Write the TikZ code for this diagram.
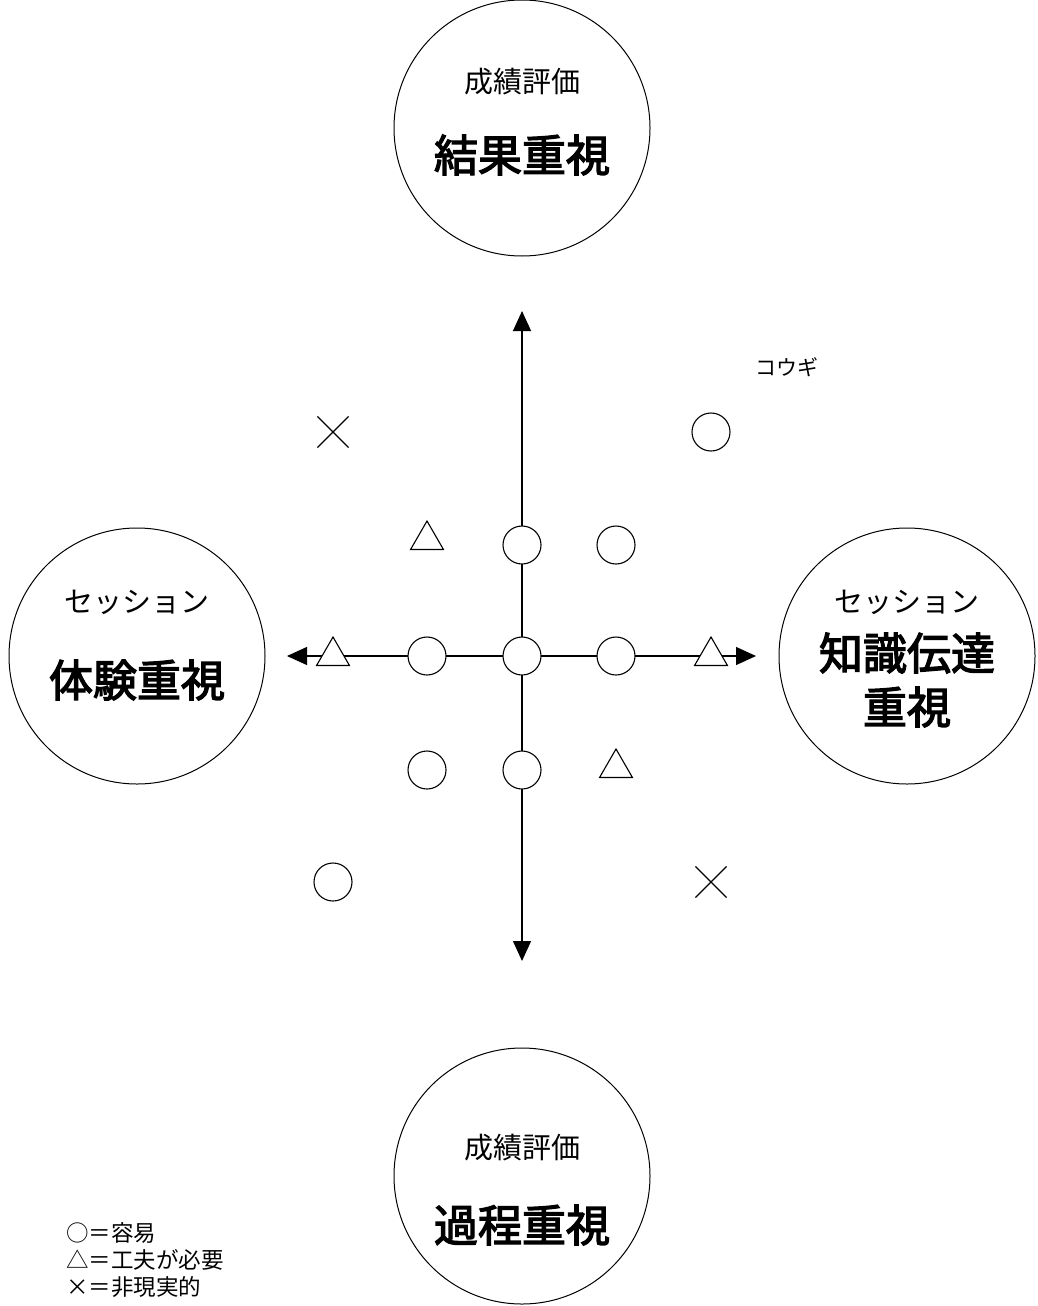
\documentclass[tikz,border=0pt]{standalone}
\usepackage{fontspec}
\newfontfamily\jp{Noto Sans CJK JP}
\newfontfamily\jpm[FakeBold=3]{Noto Sans CJK JP}
\usetikzlibrary{shapes.geometric,shapes.misc,arrows.meta}
\begin{document}
\begin{tikzpicture}[x=1pt,y=-1pt,
  bigc/.style={circle,draw,line width=1pt,minimum size=256pt,inner sep=0pt},
  okmark/.style={circle,draw,fill=white,line width=1.1pt,minimum size=38pt,inner sep=0pt},
  trimark/.style={regular polygon,regular polygon sides=3,draw,fill=white,line width=1.1pt,minimum size=38pt,inner sep=0pt},
  ngmark/.style={cross out,draw,line width=1.1pt,minimum size=30pt,inner sep=0pt},
  axis/.style={line width=1.2pt,-{Triangle[width=18pt,length=20pt]}},
  small/.style={font=\jp\fontsize{29}{32}\selectfont,inner sep=0pt},
  large/.style={font=\jpm\fontsize{44}{54}\selectfont,inner sep=0pt,align=center},
  legend/.style={font=\jp\fontsize{22.5}{27}\selectfont,inner sep=0pt,anchor=west}]
\useasboundingbox (0,0) rectangle (1038,1306);
% big circles
\node[bigc] (top) at (522,128) {};
\node[bigc] (left) at (137,656) {};
\node[bigc] (right) at (907,656) {};
\node[bigc] (bottom) at (522,1176) {};
\node[small] (t1) at (522,82) {成績評価};
\node[large] (t2) at (522,155) {結果重視};
\node[small] (l1) at (137,602) {セッション};
\node[large] (l2) at (137,680) {体験重視};
\node[small] (r1) at (907,602) {セッション};
\node[large] (r2) at (907,680) {知識伝達\\重視};
\node[small] (b1) at (522,1148) {成績評価};
\node[large] (b2) at (522,1225) {過程重視};
% axes
\coordinate (c) at (522,656);
\coordinate (up) at (522,311);
\coordinate (dn) at (522,961);
\coordinate (lt) at (287,656);
\coordinate (rt) at (756,656);
\draw[axis] (c) -- (up);
\draw[axis] (c) -- (dn);
\draw[axis] (c) -- (lt);
\draw[axis] (c) -- (rt);
% markers
\node[okmark] (m0) at (c) {};
\node[okmark] (m1) at (427,656) {};
\node[okmark] (m2) at (616,656) {};
\node[trimark] (m3) at (333,656) {};
\node[trimark] (m4) at (711,656) {};
\node[ngmark] (m5) at (333,432) {};
\node[okmark] (m6) at (711,432) {};
\node[trimark] (m7) at (427,540) {};
\node[okmark] (m8) at (522,545) {};
\node[okmark] (m9) at (616,545) {};
\node[okmark] (m10) at (427,770) {};
\node[okmark] (m11) at (522,770) {};
\node[trimark] (m12) at (616,768) {};
\node[okmark] (m13) at (333,882) {};
\node[ngmark] (m14) at (711,882) {};
\node[font=\jp\fontsize{21}{24}\selectfont,inner sep=0pt] (kougi) at (787,367) {コウギ};
% legend
\node[legend] (lg1) at (66,1233) {○＝容易};
\node[legend] (lg2) at (66,1260) {△＝工夫が必要};
\node[legend] (lg3) at (66,1287) {×＝非現実的};
\end{tikzpicture}
\end{document}
